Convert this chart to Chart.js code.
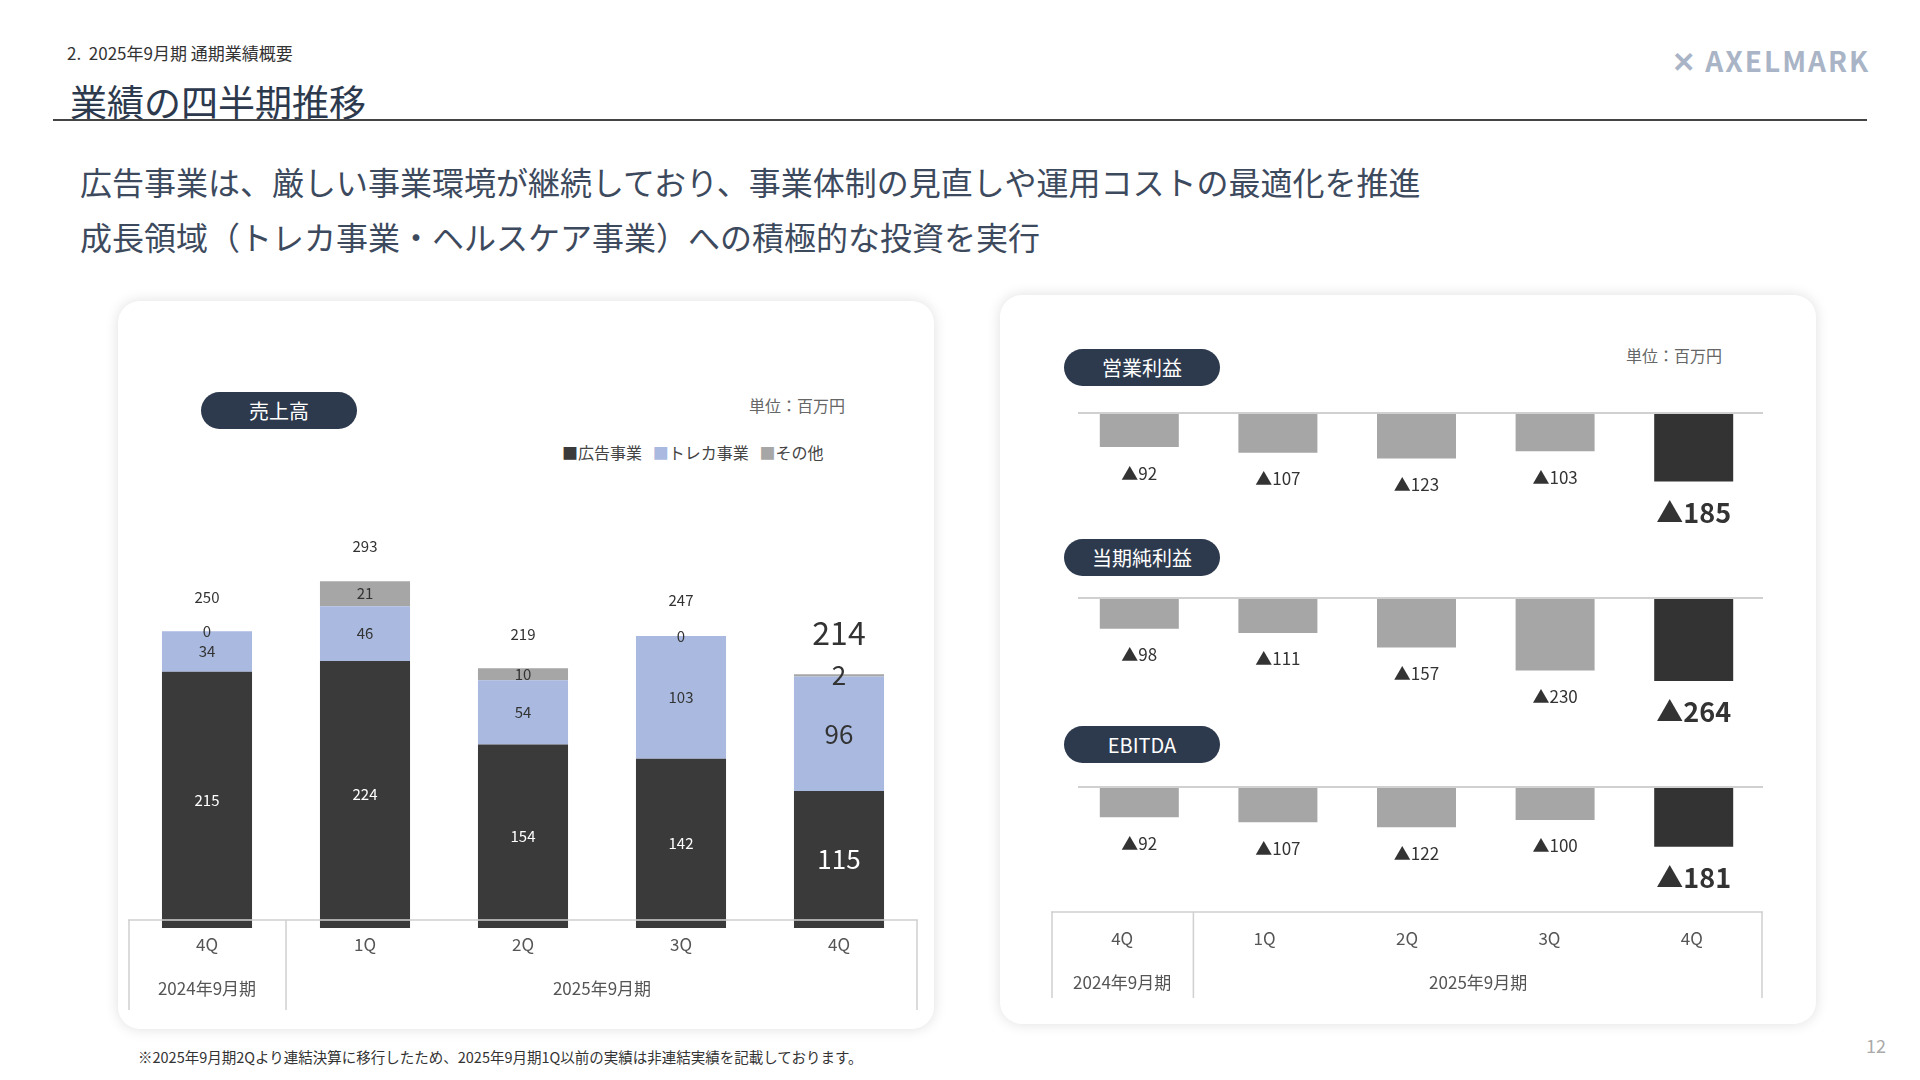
<!DOCTYPE html>
<html><head><meta charset="utf-8">
<script src="https://cdn.jsdelivr.net/npm/chart.js@4"></script>
<style>
body{margin:0;width:1920px;height:1080px;background:#fff;font-family:"Noto Sans CJK JP","Noto Sans",sans-serif;position:relative;overflow:hidden;color:#333}
.abs{position:absolute}
.card{position:absolute;background:#fff;border-radius:22px;box-shadow:0 0 14px rgba(0,0,0,0.13)}
.pill{position:absolute;background:#2d3a4e;color:#fff;border-radius:20px;text-align:center;font-size:20px;line-height:37px;width:156px;height:37px}
.unit{position:absolute;font-size:16px;color:#666}
canvas{position:absolute}
</style></head><body>
<div class="abs" style="left:67px;top:40px;font-size:17px">2.&nbsp; 2025年9月期 通期業績概要</div>
<div class="abs" style="left:70px;top:74px;font-size:37px;color:#2d3a4e">業績の四半期推移</div>
<div class="abs" style="left:53px;top:119px;width:1814px;height:2px;background:#444"></div>
<div class="abs" style="left:1672px;top:40px;font-size:28px;color:#a9b4c6;font-weight:bold;letter-spacing:2px">✕ AXELMARK</div>
<div class="abs" style="left:80px;top:158px;font-size:32px;color:#3d4a5e">広告事業は、厳しい事業環境が継続しており、事業体制の見直しや運用コストの最適化を推進</div>
<div class="abs" style="left:80px;top:213px;font-size:32px;color:#3d4a5e">成長領域（トレカ事業・ヘルスケア事業）への積極的な投資を実行</div>

<div class="card" style="left:118px;top:301px;width:816px;height:728px"></div>
<div class="card" style="left:1000px;top:295px;width:816px;height:729px"></div>

<div class="pill" style="left:201px;top:392px">売上高</div>
<div class="unit" style="left:749px;top:393px">単位：百万円</div>
<div class="abs" style="left:562px;top:440px;font-size:16px;color:#444">
<span style="color:#3a3a3a">■</span>広告事業&nbsp;&nbsp; <span style="color:#a9b9df">■</span>トレカ事業&nbsp;&nbsp; <span style="color:#a6a6a6">■</span>その他</div>

<div class="pill" style="left:1064px;top:349px">営業利益</div>
<div class="unit" style="left:1626px;top:343px">単位：百万円</div>
<div class="pill" style="left:1064px;top:539px">当期純利益</div>
<div class="pill" style="left:1064px;top:726px">EBITDA</div>

<div class="abs" style="left:138px;top:1046px;font-size:14.5px;color:#333">※2025年9月期2Qより連結決算に移行したため、2025年9月期1Q以前の実績は非連結実績を記載しております。</div>
<div class="abs" style="left:1866px;top:1032px;font-size:18px;color:#aaa">12</div>

<canvas id="sales" style="left:128px;top:480px;width:790px;height:530px"></canvas>
<canvas id="op" style="left:1051px;top:395px;width:712px;height:150px"></canvas>
<canvas id="net" style="left:1051px;top:580px;width:712px;height:150px"></canvas>
<canvas id="ebitda" style="left:1051px;top:769px;width:712px;height:229px"></canvas>

<script>
const quarters = ['4Q', '1Q', '2Q', '3Q', '4Q'];
const fiscalYears = ['2024年9月期', '2025年9月期'];
const adValues = [215, 224, 154, 142, 115];
const tcgValues = [34, 46, 54, 103, 96];
const otherValues = [0, 21, 10, 0, 2];
const salesTotals = [250, 293, 219, 247, 214];
const opIncome = [-92, -107, -123, -103, -185];
const netIncome = [-98, -111, -157, -230, -264];
const ebitdaValues = [-92, -107, -122, -100, -181];

const FONT = '"Noto Sans CJK JP","Noto Sans",sans-serif';

function setup(id, w, h) {
    const c = document.getElementById(id);
    c.width = w; c.height = h;
    return c.getContext('2d');
}

// 売上高の積み上げ棒
const salesLabels = {
    id: 'salesLabels',
    afterDatasetsDraw(chart) {
        const ctx = chart.ctx;
        ctx.save();
        ctx.textAlign = 'center';
        ctx.textBaseline = 'middle';
        chart.data.datasets.forEach((ds, di) => {
            chart.getDatasetMeta(di).data.forEach((bar, i) => {
                const big = i === 4;
                ctx.font = (big ? '26px ' : '15px ') + FONT;
                ctx.fillStyle = di === 0 ? '#fff' : '#333';
                let y = (bar.y + bar.base) / 2;
                if (ds.data[i] === 0) y = bar.y;
                ctx.fillText(ds.data[i], bar.x, y);
            });
        });
        // 合計
        const top = chart.getDatasetMeta(2).data;
        top.forEach((bar, i) => {
            const big = i === 4;
            ctx.font = (big ? '32px ' : '15px ') + FONT;
            ctx.fillStyle = '#333';
            const y = chart.scales.y.getPixelForValue(salesTotals[i]);
            ctx.fillText(salesTotals[i], bar.x, y - (big ? 40 : 33));
        });
        ctx.restore();
    }
};

function tablePlugin(top, catY, yearY, bottom) {
    return {
        id: 'table',
        afterDraw(chart) {
            const ctx = chart.ctx, x = chart.scales.x, a = chart.chartArea;
            const edge = x.getPixelForValue(0.5);
            ctx.save();
            ctx.strokeStyle = '#d0d0d0';
            ctx.lineWidth = 1.5;
            ctx.beginPath();
            ctx.moveTo(a.left, top); ctx.lineTo(a.right, top);
            [a.left + 1, edge, a.right - 1].forEach(px => {
                ctx.moveTo(px, top); ctx.lineTo(px, bottom);
            });
            ctx.stroke();
            ctx.fillStyle = '#555';
            ctx.textAlign = 'center';
            ctx.textBaseline = 'middle';
            ctx.font = '17px ' + FONT;
            quarters.forEach((q, i) => ctx.fillText(q, x.getPixelForValue(i), catY));
            ctx.fillText(fiscalYears[0], (a.left + edge) / 2, yearY);
            ctx.fillText(fiscalYears[1], (edge + a.right) / 2, yearY);
            ctx.restore();
        }
    };
}

new Chart(setup('sales', 790, 530), {
    type: 'bar',
    data: {
        labels: quarters,
        datasets: [
            { label: '広告事業', data: adValues, backgroundColor: '#3a3a3a' },
            { label: 'トレカ事業', data: tcgValues, backgroundColor: '#a9b9df' },
            { label: 'その他', data: otherValues, backgroundColor: '#a6a6a6' }
        ]
    },
    options: {
        responsive: false, animation: false,
        layout: { padding: { bottom: 82 } },
        datasets: { bar: { categoryPercentage: 1, barPercentage: 0.57 } },
        plugins: { legend: { display: false }, tooltip: { enabled: false } },
        scales: {
            x: { stacked: true, display: false },
            y: { stacked: true, display: false, min: 0, max: 376 }
        }
    },
    plugins: [salesLabels, tablePlugin(440, 465, 509, 530)]
});

// 損益の棒グラフ（マイナス値）
function lossChart(id, values, min, h, extra) {
    const lossLabels = {
        id: 'lossLabels',
        afterDatasetsDraw(chart) {
            const ctx = chart.ctx, y = chart.scales.y, a = chart.chartArea;
            ctx.save();
            ctx.strokeStyle = '#d0d0d0';
            ctx.lineWidth = 2;
            ctx.beginPath();
            ctx.moveTo(a.left + 8, y.getPixelForValue(0));
            ctx.lineTo(a.right + 8, y.getPixelForValue(0));
            ctx.stroke();
            ctx.textAlign = 'center';
            ctx.textBaseline = 'middle';
            chart.getDatasetMeta(0).data.forEach((bar, i) => {
                const big = i === 4;
                ctx.font = (big ? 'bold 27px ' : '17px ') + FONT;
                ctx.fillStyle = '#333';
                ctx.fillText('▲' + Math.abs(values[i]), bar.x, bar.y + (big ? 31 : 26));
            });
            ctx.restore();
        }
    };
    new Chart(setup(id, 712, h), {
        type: 'bar',
        data: {
            labels: quarters,
            datasets: [{
                data: values,
                backgroundColor: values.map((v, i) => i === 4 ? '#333333' : '#a6a6a6')
            }]
        },
        options: {
            responsive: false, animation: false,
            layout: { padding: { top: 18, left: 19, right: -19, bottom: h - 148 } },
            datasets: { bar: { categoryPercentage: 1, barPercentage: 0.57 } },
            plugins: { legend: { display: false }, tooltip: { enabled: false } },
            scales: {
                x: { display: false },
                y: { display: false, min: min, max: 0 }
            }
        },
        plugins: extra ? [lossLabels, extra] : [lossLabels]
    });
}
lossChart('op', opIncome, -351, 150);
lossChart('net', netIncome, -413, 150);
lossChart('ebitda', ebitdaValues, -394, 229, {
    id: 'rtable',
    afterDraw(chart) {
        const ctx = chart.ctx;
        const w = 712, n = quarters.length, cw = w / n;
        const top = 143, catY = 170, yearY = 214, bottom = 229;
        ctx.save();
        ctx.strokeStyle = '#d0d0d0';
        ctx.lineWidth = 1.5;
        ctx.beginPath();
        ctx.moveTo(0, top); ctx.lineTo(w, top);
        [1, cw, w - 1].forEach(px => { ctx.moveTo(px, top); ctx.lineTo(px, bottom); });
        ctx.stroke();
        ctx.fillStyle = '#555';
        ctx.textAlign = 'center';
        ctx.textBaseline = 'middle';
        ctx.font = '17px ' + FONT;
        quarters.forEach((q, i) => ctx.fillText(q, cw * (i + 0.5), catY));
        ctx.fillText(fiscalYears[0], cw / 2, yearY);
        ctx.fillText(fiscalYears[1], (cw + w) / 2, yearY);
        ctx.restore();
    }
});
</script>
</body></html>
